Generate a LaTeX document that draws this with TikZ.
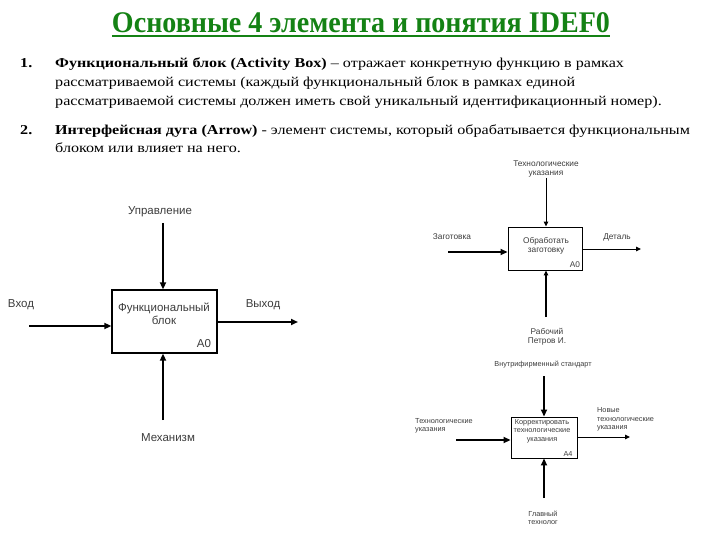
\documentclass[tikz,border=0pt]{standalone}
\usepackage{fontspec}
\setmainfont{Liberation Serif}
\newfontfamily\titlefont[FakeStretch=0.935]{Liberation Serif}
\newfontfamily\bodyfont[FakeStretch=1.185]{Liberation Serif}
\newfontfamily\diafont{Liberation Sans}
\usetikzlibrary{arrows.meta}
\definecolor{titlegreen}{RGB}{20,130,20}
\definecolor{diagray}{RGB}{60,60,60}
\tikzset{
  ttl/.style={font=\titlefont\fontsize{30}{30}\selectfont\bfseries, text=titlegreen, inner sep=0pt},
  bodyline/.style={anchor=base west, inner sep=0pt, font=\bodyfont\fontsize{13.6}{16}\selectfont},
  numline/.style={anchor=base west, inner sep=0pt, font=\bodyfont\fontsize{13.6}{16}\selectfont\bfseries},
  fbox/.style={draw, line width=1.3pt, inner sep=0pt},
  fboxthin/.style={draw, line width=0.9pt, inner sep=0pt},
  thickarr/.style={line width=2pt, -{Triangle[length=7pt,width=6pt]}},
  thinarr/.style={line width=1pt, -{Triangle[length=5pt,width=4.5pt]}},
  lbla/.style={font=\diafont\fontsize{11.5}{13}\selectfont, text=diagray, inner sep=0pt, align=center},
  lblb/.style={font=\diafont\fontsize{8.3}{9}\selectfont, text=diagray, inner sep=0pt, align=center},
  lblc/.style={font=\diafont\fontsize{7.3}{8.5}\selectfont, text=diagray, inner sep=0pt, align=center},
}
\begin{document}
\begin{tikzpicture}[x=1pt,y=-1pt]
\useasboundingbox (0,0) rectangle (720,540);
% title
\node[ttl] (title) at (361,23) {Основные 4 элемента и понятия IDEF0};
\draw[titlegreen, line width=1.6pt] (title.south west |- 0,36) -- (title.south east |- 0,36);
% body text
\node[numline] (n1) at (20,68) {1.};
\node[bodyline] (t1) at (55,68) {\textbf{Функциональный блок (Activity Box)} – отражает конкретную функцию в рамках};
\node[bodyline] (t2) at (55,87) {рассматриваемой системы (каждый функциональный блок в рамках единой};
\node[bodyline] (t3) at (55,106) {рассматриваемой системы должен иметь свой уникальный идентификационный номер).};
\node[numline] (n2) at (20,135) {2.};
\node[bodyline] (t4) at (55,135) {\textbf{Интерфейсная дуга (Arrow)} - элемент системы, который обрабатывается функциональным};
\node[bodyline] (t5) at (55,153) {блоком или влияет на него.};

% ---- diagram 1
\node[fbox, minimum width=105pt, minimum height=63pt] (b1) at (164.5,321.5) {};
\node[lbla] (b1t) at (164,314) {Функциональный\\блок};
\node[lbla] (b1n) at (204,344) {A0};
\coordinate (c1) at (163,223);
\coordinate (i1) at (29,326);
\coordinate (o1) at (298,322);
\coordinate (m1) at (163,420);
\draw[thickarr] (c1) -- (c1 |- b1.north);
\draw[thickarr] (i1) -- (i1 -| b1.west);
\draw[thickarr] (o1 -| b1.east) -- (o1);
\draw[thickarr] (m1) -- (m1 |- b1.south);
\node[lbla] (l1c) at (160,212) {Управление};
\node[lbla] (l1i) at (21,305) {Вход};
\node[lbla] (l1o) at (263,305) {Выход};
\node[lbla] (l1m) at (168,438) {Механизм};

% ---- diagram 2
\node[fboxthin, minimum width=74pt, minimum height=43pt] (b2) at (545,248.5) {};
\node[lblb] (b2t) at (546,245.5) {Обработать\\заготовку};
\node[lblb] (b2n) at (575,265) {A0};
\coordinate (c2) at (546,178);
\coordinate (i2) at (448,252);
\coordinate (o2) at (641,249);
\coordinate (m2) at (546,317);
\draw[thinarr] (c2) -- (c2 |- b2.north);
\draw[thickarr] (i2) -- (i2 -| b2.west);
\draw[thinarr] (o2 -| b2.east) -- (o2);
\draw[thinarr, line width=1.3pt] (m2) -- (m2 |- b2.south);
\node[lblb] (l2c) at (546,169) {Технологические\\указания};
\node[lblb] (l2i) at (452,237) {Заготовка};
\node[lblb] (l2o) at (617,237) {Деталь};
\node[lblb] (l2m) at (547,337) {Рабочий\\Петров И.};

% ---- diagram 3
\node[fboxthin, minimum width=66pt, minimum height=41pt] (b3) at (544,437.5) {};
\node[lblc] (b3t) at (542,431) {Корректировать\\технологические\\указания};
\node[lblc] (b3n) at (568,454) {A4};
\coordinate (c3) at (544,376);
\coordinate (i3) at (456,440);
\coordinate (o3) at (630,437);
\coordinate (m3) at (544,498);
\draw[thickarr] (c3) -- (c3 |- b3.north);
\draw[thickarr] (i3) -- (i3 -| b3.west);
\draw[thinarr] (o3 -| b3.east) -- (o3);
\draw[thickarr] (m3) -- (m3 |- b3.south);
\node[lblc] (l3c) at (543,365) {Внутрифирменный стандарт};
\node[lblc, anchor=west, align=left] (l3i) at (415,425.5) {Технологические\\указания};
\node[lblc, anchor=west, align=left] (l3o) at (597,419.5) {Новые\\технологические\\указания};
\node[lblc] (l3m) at (543,518) {Главный\\технолог};
\end{tikzpicture}
\end{document}
